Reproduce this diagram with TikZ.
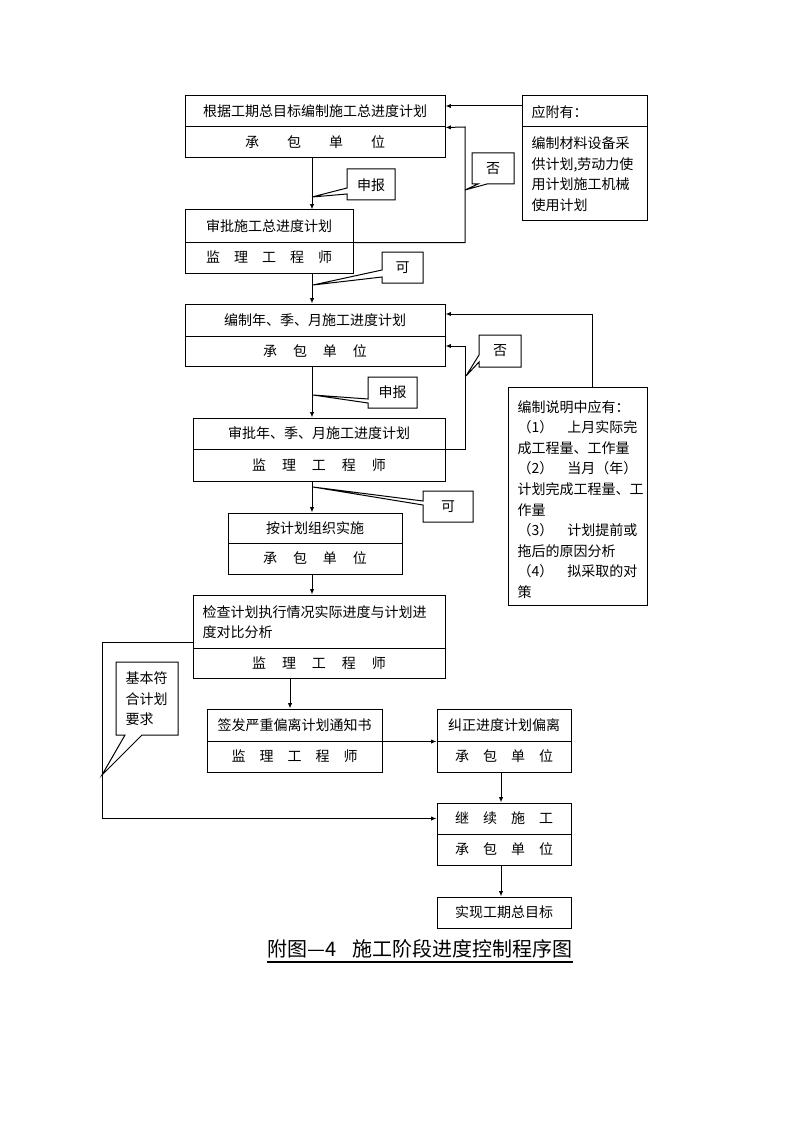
\documentclass[tikz,border=0pt]{standalone}
\usepackage{fontspec}
\setmainfont{Noto Sans CJK SC}
\usetikzlibrary{arrows.meta,fit,calc}
\begin{document}
\begin{tikzpicture}[x=0.75pt,y=-0.75pt, line width=0.75pt,
  part/.style={draw, inner sep=0pt},
  arr/.style={-{Latex[length=4pt,width=3.2pt]}},
  lbl/.style={inner sep=0pt, font=\fontsize{10.5}{12}\selectfont},
  notetext/.style={inner sep=0pt, align=left, anchor=north west, font=\fontsize{10.5}{15.6}\selectfont}]
\useasboundingbox (0,0) rectangle (794,1123);
\newcommand{\gA}{\hspace{1em}}
\newcommand{\gB}{\hspace{1.14em}}
\newcommand{\gC}{\hspace{2em}}
% main boxes
\node[part, fit={(185,96) (445,127)}, label={[lbl]center:根据工期总目标编制施工总进度计划}] (b1t) {};
\node[part, fit={(185,127) (445,158)}, label={[lbl]center:承\gC 包\gC 单\gC 位}] (b1b) {};
\node[part, fit={(185,210) (353,242)}, label={[lbl]center:审批施工总进度计划}] (b2t) {};
\node[part, fit={(185,242) (353,273)}, label={[lbl]center:监\gA 理\gA 工\gA 程\gA 师}] (b2b) {};
\node[part, fit={(185,304) (445,336)}, label={[lbl]center:编制年、季、月施工进度计划}] (b3t) {};
\node[part, fit={(185,336) (445,366)}, label={[lbl]center:承\gB 包\gB 单\gB 位}] (b3b) {};
\node[part, fit={(193,418) (445,449)}, label={[lbl]center:审批年、季、月施工进度计划}] (b4t) {};
\node[part, fit={(193,449) (445,481)}, label={[lbl]center:监\gB 理\gB 工\gB 程\gB 师}] (b4b) {};
\node[part, fit={(228,513) (402,543)}, label={[lbl]center:按计划组织实施}] (b5t) {};
\node[part, fit={(228,543) (402,574)}, label={[lbl]center:承\gB 包\gB 单\gB 位}] (b5b) {};
\node[part, fit={(193,595) (445,648)}] (b6t) {};
\node[notetext, anchor=west, font=\fontsize{10.5}{15}\selectfont] (b6x) at (202,622) {检查计划执行情况实际进度与计划进\\度对比分析};
\node[part, fit={(193,648) (445,678)}, label={[lbl]center:监\gB 理\gB 工\gB 程\gB 师}] (b6b) {};
\node[part, fit={(207,709) (382,741)}, label={[lbl]center:签发严重偏离计划通知书}] (b7t) {};
\node[part, fit={(207,741) (382,772)}, label={[lbl]center:监\gA 理\gA 工\gA 程\gA 师}] (b7b) {};
\node[part, fit={(437,709) (571,741)}, label={[lbl]center:纠正进度计划偏离}] (b8t) {};
\node[part, fit={(437,741) (571,772)}, label={[lbl]center:承\gA 包\gA 单\gA 位}] (b8b) {};
\node[part, fit={(437,803) (571,834)}, label={[lbl]center:继\gA 续\gA 施\gA 工}] (b9t) {};
\node[part, fit={(437,834) (571,865)}, label={[lbl]center:承\gA 包\gA 单\gA 位}] (b9b) {};
\node[part, fit={(437,897) (571,928)}, label={[lbl]center:实现工期总目标}] (b10) {};
% note boxes
\node[part, fit={(522,96) (647,127)}] (n1t) {};
\node[lbl, anchor=west] (n1x) at (531,112) {应附有：};
\node[part, fit={(522,127) (647,221)}] (n1b) {};
\node[notetext] (n1y) at (531,136) {编制材料设备采\\供计划,劳动力使\\用计划施工机械\\使用计划};
\node[part, fit={(508,387) (647,605)}] (n2) {};
\node[notetext, font=\fontsize{10.5}{15.4}\selectfont] (n2x) at (517,400) {编制说明中应有：\\（1）\hspace{1em}上月实际完\\成工程量、工作量\\（2）\hspace{1em}当月（年）\\计划完成工程量、工\\作量\\（3）\hspace{1em}计划提前或\\拖后的原因分析\\（4）\hspace{1em}拟采取的对\\策};
% callouts
\draw (347,169) -- (347,188) -- (312,197) -- (347,194) -- (347,200) -- (395,200) -- (395,169) -- cycle;
\node[lbl] (c1) at (371,185) {申报};
\draw (382,252) -- (382,270) -- (313,285) -- (382,277) -- (382,283) -- (423,283) -- (423,252) -- cycle;
\node[lbl] (c2) at (402.5,267.5) {可};
\draw (472,153) -- (472,184) -- (478,184) -- (465,190) -- (487,184) -- (514,184) -- (514,153) -- cycle;
\node[lbl] (c3) at (493,168.5) {否};
\draw (368,377) -- (368,399) -- (313,395) -- (368,403) -- (368,408) -- (417,408) -- (417,377) -- cycle;
\node[lbl] (c4) at (392.5,392.5) {申报};
\draw (479,335) -- (479,355) -- (466,376) -- (479,362) -- (479,367) -- (521,367) -- (521,335) -- cycle;
\node[lbl] (c5) at (500,351) {否};
\draw (423,491) -- (423,501) -- (313,487) -- (423,505) -- (423,522) -- (473,522) -- (473,491) -- cycle;
\node[lbl] (c6) at (448,506.5) {可};
\draw (116,662) -- (116,735) -- (125,735) -- (102,775) -- (142,735) -- (178,735) -- (178,662) -- cycle;
\node[notetext] (c7) at (125,671) {基本符\\合计划\\要求};
% connectors
\coordinate (xa) at (312,0);
\coordinate (xb) at (290,0);
\coordinate (xc) at (501,0);
\draw[arr] (b1b.south -| xa) -- (b2t.north -| xa);
\draw[arr] (b2b.south -| xa) -- (b3t.north -| xa);
\draw[arr] (b3b.south -| xa) -- (b4t.north -| xa);
\draw[arr] (b4b.south -| xa) -- (b5t.north -| xa);
\draw[arr] (b5b.south -| xa) -- (b6t.north -| xa);
\draw[arr] (b6b.south -| xb) -- (b7t.north -| xb);
\draw[arr] (b7t.south east) -- (b8t.south west);
\draw[arr] (b8b.south -| xc) -- (b9t.north -| xc);
\draw[arr] (b9b.south -| xc) -- (b10.north -| xc);
\coordinate (f1) at (465,127);
\draw[arr] (b2t.south east) -| (f1) -- (b1t.south east);
\coordinate (y106) at (0,106);
\draw[arr] (n1t.west |- y106) -- (b1t.east |- y106);
\coordinate (f2) at (465,346);
\draw[arr] (b4t.south east) -| (f2) -- (b3b.east |- f2);
\coordinate (f3) at (592,314);
\draw[arr] (n2.north -| f3) -- (f3) -- (b3t.east |- f3);
\coordinate (f4) at (102,642);
\draw[arr] (b6t.west |- f4) -- (f4) |- (b9t.west);
% title
\node[inner sep=0pt, font=\fontsize{15}{18}\selectfont] (title) at (420,949) {附图—4\hspace{0.8em}施工阶段进度控制程序图};
\coordinate (ul) at (0,962);
\draw[line width=1.6pt] (title.west |- ul) -- (title.east |- ul);
\end{tikzpicture}
\end{document}
